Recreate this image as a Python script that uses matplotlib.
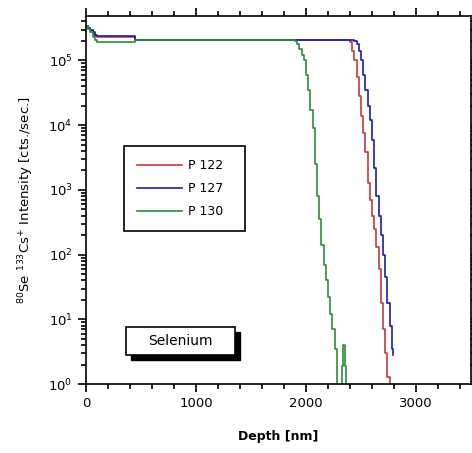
import matplotlib
matplotlib.use("Agg")
import matplotlib.pyplot as plt
from matplotlib.patches import Rectangle
from matplotlib.ticker import MultipleLocator, LogLocator, NullFormatter

plt.rcParams['font.family'] = ['DejaVu Sans']

# P 122
depth_122 = [0, 20, 40, 60, 80, 100, 450, 1000, 2000, 2380, 2400, 2420, 2440, 2460,
             2480, 2500, 2520, 2540, 2560, 2580, 2600, 2620, 2640, 2660, 2680, 2700,
             2720, 2740, 2760]
int_122 = [3.4e5, 3.2e5, 2.9e5, 2.6e5, 2.4e5, 2.3e5, 2.1e5, 2.1e5, 2.1e5, 2.1e5, 1.9e5,
           1.4e5, 1.0e5, 5.5e4, 2.8e4, 1.4e4, 7.5e3, 3.8e3, 1.3e3, 7e2, 4e2, 2.5e2,
           1.3e2, 6e1, 1.8e1, 7, 3, 1.3, 0.5]

# P 127
depth_127 = [0, 20, 40, 60, 80, 100, 450, 1000, 2000, 2420, 2440, 2460, 2480, 2500,
             2520, 2540, 2560, 2580, 2600, 2620, 2640, 2660, 2680, 2700, 2720, 2740,
             2760, 2780, 2790]
int_127 = [3.4e5, 3.2e5, 2.9e5, 2.7e5, 2.5e5, 2.35e5, 2.1e5, 2.1e5, 2.1e5, 2.1e5, 2.0e5,
           1.8e5, 1.4e5, 1.0e5, 6e4, 3.5e4, 2.0e4, 1.2e4, 6e3, 2.2e3, 8e2, 4e2, 2e2,
           1e2, 4.5e1, 1.8e1, 8, 3.5, 2.8]

# P 130
depth_130 = [0, 20, 40, 60, 80, 100, 450, 1000, 1880, 1900, 1920, 1940, 1960, 1980,
             2000, 2020, 2040, 2060, 2080, 2100, 2120, 2140, 2160, 2180, 2200, 2220,
             2240, 2260, 2280, 2330, 2340, 2350, 2360, 2400]
int_130 = [3.4e5, 3.1e5, 2.7e5, 2.3e5, 2.1e5, 1.95e5, 2.1e5, 2.1e5, 2.1e5, 2.0e5, 1.8e5,
           1.5e5, 1.2e5, 1.0e5, 6e4, 3.5e4, 1.7e4, 9e3, 2.5e3, 8e2, 3.5e2, 1.4e2,
           7e1, 4e1, 2.2e1, 1.2e1, 7, 3.5, 0.3, 1.9, 4.0, 1.9, 0.3, 0.3]

fig = plt.figure(figsize=(4.72, 4.53), dpi=100)
ax = fig.add_axes([0.182, 0.152, 0.816, 0.812])

ax.plot(depth_122, int_122, color='#c23b3b', lw=1.2, drawstyle='steps-post', label='P 122')
ax.plot(depth_127, int_127, color='#1c1ca8', lw=1.2, drawstyle='steps-post', label='P 127')
ax.plot(depth_130, int_130, color='#2e8b3a', lw=1.2, drawstyle='steps-post', label='P 130')

ax.set_yscale('log')
ax.set_xlim(0, 3500)
ax.set_ylim(1, 4.8e5)

ax.xaxis.set_major_locator(MultipleLocator(1000))
ax.xaxis.set_minor_locator(MultipleLocator(200))
ax.yaxis.set_major_locator(LogLocator(base=10, numticks=10))
ax.yaxis.set_minor_locator(LogLocator(base=10, subs=range(2, 10), numticks=10))
ax.yaxis.set_minor_formatter(NullFormatter())

ax.tick_params(which='both', direction='out', top=True, right=True, width=1.2,
               labelsize=9.5)
ax.tick_params(which='major', length=6)
ax.tick_params(which='minor', length=3.5)
for s in ax.spines.values():
    s.set_linewidth(1.2)

ax.set_xlabel('Depth [nm]', fontsize=9, fontweight='bold', labelpad=14)
ax.set_ylabel(r'$^{80}$Se $^{133}$Cs$^{+}$ Intensity [cts./sec.]', fontsize=9.5, labelpad=9)

leg = ax.legend(loc='upper left', bbox_to_anchor=(0.099, 0.647), borderaxespad=0,
                fancybox=False, edgecolor='black', framealpha=1, fontsize=9,
                handlelength=3.6, labelspacing=0.8, borderpad=1.05, handletextpad=0.5)
leg.get_frame().set_linewidth(1.2)
for t in leg.get_texts():
    t.set_text(t.get_text() + '  ')

# "Selenium" box with shadow
ax.add_patch(Rectangle((0.117, 0.066), 0.283, 0.076, transform=ax.transAxes,
                       facecolor='black', edgecolor='black', zorder=5))
ax.add_patch(Rectangle((0.104, 0.079), 0.283, 0.076, transform=ax.transAxes,
                       facecolor='white', edgecolor='black', lw=1.2, zorder=6))
ax.text(0.2455, 0.117, 'Selenium', transform=ax.transAxes, ha='center', va='center',
        fontsize=10, zorder=7)

fig.savefig('out.png', dpi=100)
